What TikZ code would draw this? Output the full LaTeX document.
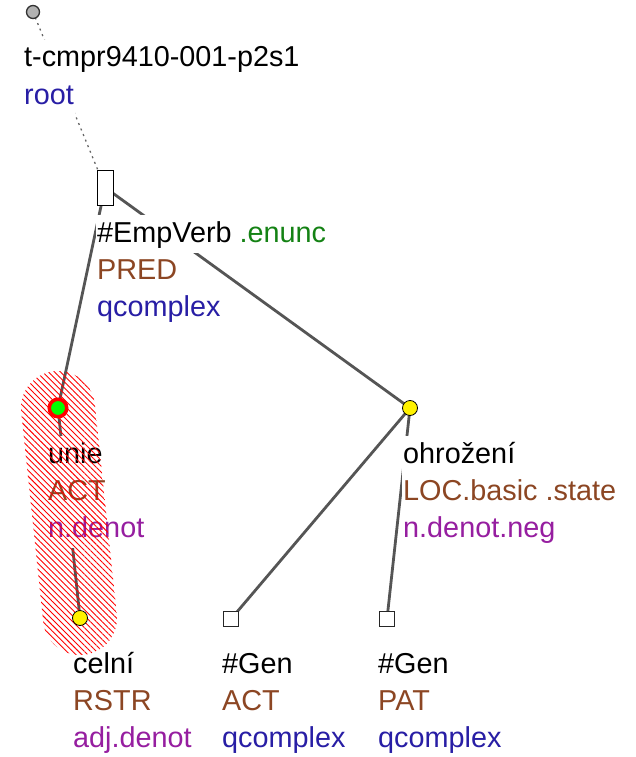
\documentclass[tikz,border=0pt]{standalone}
\usepackage{fontspec}
\setmainfont{Liberation Sans}
\usetikzlibrary{patterns.meta}
\definecolor{tblue}{RGB}{40,30,165}
\definecolor{tbrown}{RGB}{140,70,35}
\definecolor{tpurple}{RGB}{150,30,160}
\definecolor{tgreen}{RGB}{20,130,20}
\definecolor{edgegray}{RGB}{85,85,85}
\pgfdeclarelayer{edgelayer}
\pgfdeclarelayer{textlayer}
\pgfdeclarelayer{hatchlayer}
\pgfsetlayers{edgelayer,textlayer,hatchlayer,main}
\begin{document}
\begin{tikzpicture}[x=1pt,y=1pt,
  lbl/.style={anchor=base west,fill=white,inner xsep=1pt,inner ysep=3pt,
    text height=24pt,text depth=8pt,font=\fontsize{28.8}{37}\selectfont},
  rootnode/.style={circle,draw=black!80,fill=black!30,line width=1.3pt,minimum size=13pt,inner sep=0pt},
  verbbox/.style={rectangle,draw=black,fill=white,line width=1pt,minimum width=16pt,minimum height=35pt,inner sep=0pt},
  focusnode/.style={circle,draw=red,fill=green,line width=3.5pt,minimum size=17.5pt,inner sep=0pt},
  yelnode/.style={circle,draw=black,fill=yellow,line width=0.8pt,minimum size=15pt,inner sep=0pt},
  genbox/.style={rectangle,draw=black!85,fill=white,line width=1.3pt,minimum size=15.5pt,inner sep=0pt},
  edge/.style={draw=edgegray,line width=2.8pt},
  rootedge/.style={draw=black!60,line width=1.3pt,dash pattern=on 2pt off 4pt}
]
\useasboundingbox (0,0) rectangle (635,-757);

% tree nodes
\node[rootnode]  (root) at (33,-12) {};
\node[verbbox]   (emp)  at (105,-187.5) {};
\node[focusnode] (unie) at (58,-408) {};
\node[yelnode]   (ohr)  at (410,-408) {};
\node[yelnode]   (cel)  at (80,-618) {};
\node[genbox]    (gena) at (231,-619) {};
\node[genbox]    (genp) at (387,-619) {};

% connectors, below the labels
\begin{pgfonlayer}{edgelayer}
  \draw[rootedge] (root.center) -- (emp.center);
  \draw[edge] (emp.center) -- (unie.center);
  \draw[edge] (emp.center) -- (ohr.center);
  \draw[edge] (unie.center) -- (cel.center);
  \draw[edge] (ohr.center) -- (gena.center);
  \draw[edge] (ohr.center) -- (genp.center);
\end{pgfonlayer}

% labels
\begin{pgfonlayer}{textlayer}
  \node[lbl] (l-root1) at (23,-67)  {t-cmpr9410-001-p2s1};
  \node[lbl,text=tblue] (l-root2) at (23,-105) {root};

  \node[lbl] (l-emp1) at (96,-242) {\#EmpVerb \textcolor{tgreen}{.enunc}};
  \node[lbl,text=tbrown] (l-emp2) at (96,-279) {PRED};
  \node[lbl,text=tblue] (l-emp3) at (96,-316) {qcomplex};

  \node[lbl] (l-unie1) at (47,-463) {unie};
  \node[lbl,text=tbrown] (l-unie2) at (47,-500) {ACT};
  \node[lbl,text=tpurple] (l-unie3) at (47,-537) {n.denot};

  \node[lbl] (l-ohr1) at (402,-463) {ohrožení};
  \node[lbl,text=tbrown] (l-ohr2) at (402,-500) {LOC.basic .state};
  \node[lbl,text=tpurple] (l-ohr3) at (402,-537) {n.denot.neg};

  \node[lbl] (l-cel1) at (72,-673) {celní};
  \node[lbl,text=tbrown] (l-cel2) at (72,-710) {RSTR};
  \node[lbl,text=tpurple] (l-cel3) at (72,-747) {adj.denot};

  \node[lbl] (l-gena1) at (221,-673) {\#Gen};
  \node[lbl,text=tbrown] (l-gena2) at (221,-710) {ACT};
  \node[lbl,text=tblue] (l-gena3) at (221,-747) {qcomplex};

  \node[lbl] (l-genp1) at (377,-673) {\#Gen};
  \node[lbl,text=tbrown] (l-genp2) at (377,-710) {PAT};
  \node[lbl,text=tblue] (l-genp3) at (377,-747) {qcomplex};
\end{pgfonlayer}

% hatched highlight round the unie--celní subtree
\begin{pgfonlayer}{hatchlayer}
  \path[pattern={Lines[angle=-45,distance=4.2pt,line width=0.9pt]},pattern color=red]
    (94.8,-404.14) -- (116.8,-614.14)
    arc[start angle=6,end angle=-174,radius=37]
    -- (21.2,-411.86)
    arc[start angle=186,end angle=6,radius=37] -- cycle;
\end{pgfonlayer}
\end{tikzpicture}
\end{document}
